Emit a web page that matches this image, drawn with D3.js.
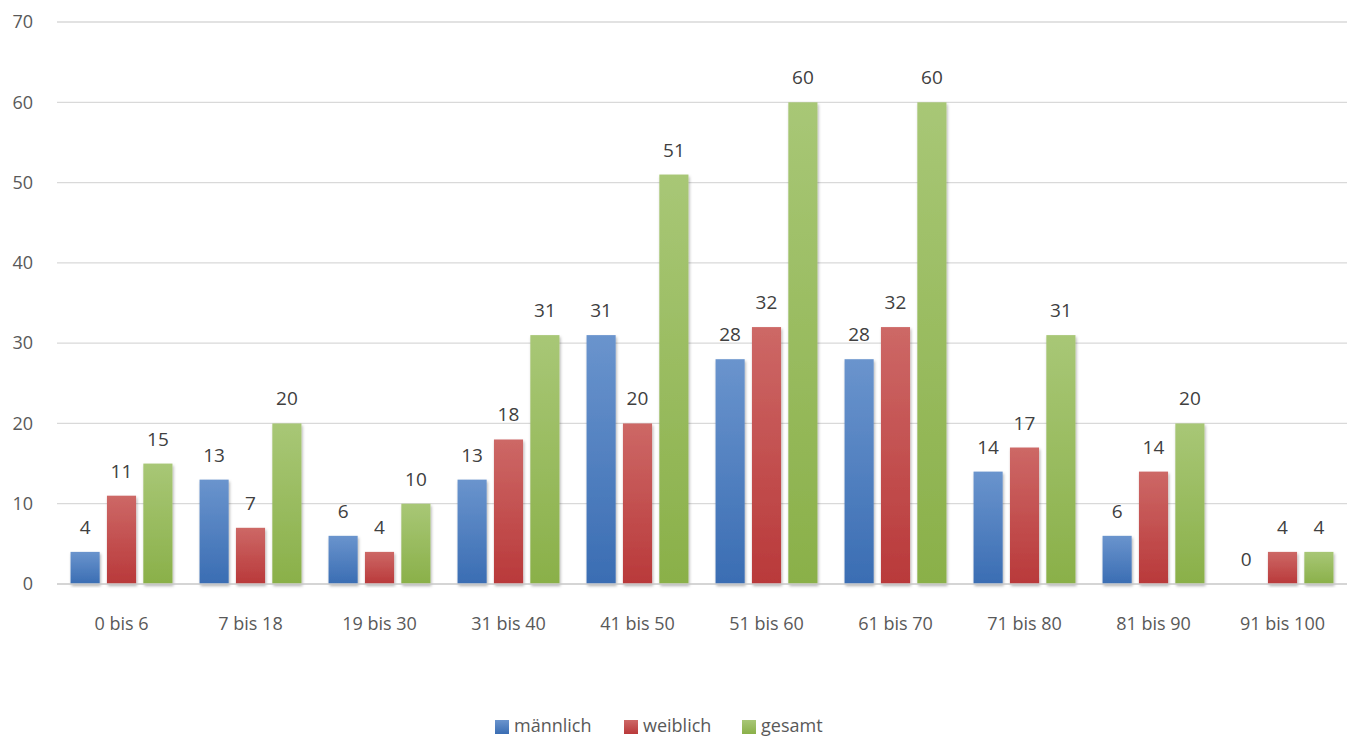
<!DOCTYPE html>
<html>
<head>
<meta charset="utf-8">
<script src="https://d3js.org/d3.v7.min.js"></script>
<style>
  body { margin: 0; background: #fff; }
  text { font-family: "Open Sans", "Noto Sans", sans-serif; }
</style>
</head>
<body>
<div id="chart"></div>
<script>
  // age groups and counts
  var categories = ["0 bis 6", "7 bis 18", "19 bis 30", "31 bis 40", "41 bis 50",
                    "51 bis 60", "61 bis 70", "71 bis 80", "81 bis 90", "91 bis 100"];
  var maennlich = [4, 13, 6, 13, 31, 28, 28, 14, 6, 0];
  var weiblich  = [11, 7, 4, 18, 20, 32, 32, 17, 14, 4];
  var gesamt    = [15, 20, 10, 31, 51, 60, 60, 31, 20, 4];
  var seriesNames = ["männlich", "weiblich", "gesamt"];
  var yTicks = [0, 10, 20, 30, 40, 50, 60, 70];

  var W = 1355, H = 738;
  var margin = {top: 22, right: 8, bottom: 154, left: 57};
  var width = W - margin.left - margin.right,
      height = H - margin.top - margin.bottom;

  var colors = [
    {top: "#6a94cd", bot: "#3a6db3"},
    {top: "#cd6866", bot: "#b9393a"},
    {top: "#a8c776", bot: "#8ab049"}
  ];

  var svg = d3.select("#chart").append("svg")
    .attr("width", W).attr("height", H);

  var defs = svg.append("defs");
  colors.forEach(function(c, i) {
    var g = defs.append("linearGradient").attr("id", "grad" + i)
      .attr("x1", 0).attr("y1", 0).attr("x2", 0).attr("y2", 1);
    g.append("stop").attr("offset", "0%").attr("stop-color", c.top);
    g.append("stop").attr("offset", "100%").attr("stop-color", c.bot);
  });
  var f = defs.append("filter").attr("id", "shadow")
    .attr("x", "-20%").attr("y", "-5%").attr("width", "140%").attr("height", "115%");
  f.append("feDropShadow").attr("dx", 1).attr("dy", 2).attr("stdDeviation", 1.5)
    .attr("flood-color", "#000").attr("flood-opacity", 0.3);

  var g = svg.append("g").attr("transform", "translate(" + margin.left + "," + margin.top + ")");

  var x0 = d3.scaleBand().domain(categories).range([0, width]).paddingInner(0.21).paddingOuter(0.105);
  var x1 = d3.scaleBand().domain(seriesNames).range([0, x0.bandwidth()]).paddingInner(0.2);
  var y = d3.scaleLinear().domain([0, 70]).range([height, 0]);

  // gridlines
  g.selectAll(".grid").data(yTicks).enter().append("line")
    .attr("x1", 0).attr("x2", width)
    .attr("y1", function(d) { return y(d); }).attr("y2", function(d) { return y(d); })
    .attr("stroke", "#d9d9d9").attr("stroke-width", 1.3);

  // y labels
  g.selectAll(".ylab").data(yTicks).enter().append("text")
    .attr("x", -24).attr("y", function(d) { return y(d); })
    .attr("dy", "0.35em").attr("text-anchor", "end")
    .attr("font-size", 18).attr("fill", "#595959")
    .text(function(d) { return d; });

  var data = categories.map(function(c, i) {
    return {cat: c, vals: [maennlich[i], weiblich[i], gesamt[i]]};
  });

  var groups = g.selectAll(".grp").data(data).enter().append("g")
    .attr("transform", function(d) { return "translate(" + x0(d.cat) + ",0)"; });

  groups.selectAll("rect").data(function(d) {
      return d.vals.map(function(v, j) { return {s: seriesNames[j], v: v, j: j}; });
    }).enter().append("rect")
    .attr("x", function(d) { return x1(d.s); })
    .attr("y", function(d) { return y(d.v); })
    .attr("width", x1.bandwidth())
    .attr("height", function(d) { return height - y(d.v); })
    .attr("fill", function(d) { return "url(#grad" + d.j + ")"; })
    .attr("filter", "url(#shadow)");

  groups.selectAll(".lab").data(function(d) {
      return d.vals.map(function(v, j) { return {s: seriesNames[j], v: v}; });
    }).enter().append("text")
    .attr("x", function(d) { return x1(d.s) + x1.bandwidth() / 2; })
    .attr("y", function(d) { return y(d.v) - 18; })
    .attr("text-anchor", "middle")
    .attr("font-size", 19).attr("fill", "#404040")
    .text(function(d) { return d.v; });

  // axis line
  g.append("line").attr("x1", 0).attr("x2", width)
    .attr("y1", height).attr("y2", height)
    .attr("stroke", "#d0d0d0").attr("stroke-width", 1.5);

  // x labels
  g.selectAll(".xlab").data(categories).enter().append("text")
    .attr("x", function(d) { return x0(d) + x0.bandwidth() / 2; })
    .attr("y", height + 46)
    .attr("text-anchor", "middle")
    .attr("font-size", 18).attr("fill", "#595959")
    .text(function(d) { return d; });

  // legend
  var legX = [495, 624, 742];
  var leg = svg.append("g");
  seriesNames.forEach(function(s, i) {
    leg.append("rect").attr("x", legX[i]).attr("y", 720).attr("width", 14).attr("height", 14)
      .attr("fill", "url(#grad" + i + ")");
    leg.append("text").attr("x", legX[i] + 19).attr("y", 732)
      .attr("font-size", 18).attr("fill", "#595959").text(s);
  });
</script>
</body>
</html>
